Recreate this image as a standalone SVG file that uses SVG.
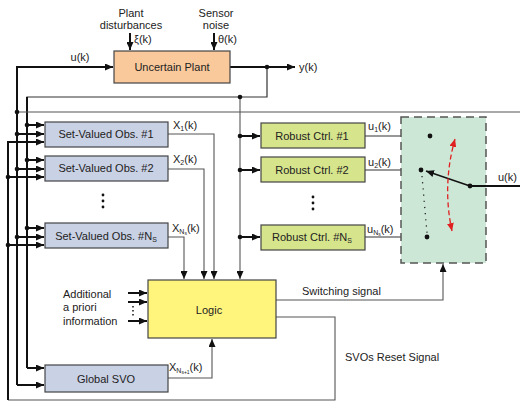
<svg xmlns="http://www.w3.org/2000/svg" width="520" height="405" viewBox="0 0 520 405">
  <style>
    text { font-family: "Liberation Sans", Arial, sans-serif; font-size: 11px; fill: #222; }
    .c { text-anchor: middle; }
    .sub { font-size: 7px; }
    .box { stroke: #444; stroke-width: 1.2; }
    .plant { fill: #F9C99B; }
    .svo { fill: #C9D1E5; }
    .ctrl { fill: #D6E48C; }
    .logic { fill: #FFF57D; }
    .bus { fill: none; stroke: #111; stroke-width: 2; }
    .thin { fill: none; stroke: #333; stroke-width: 1.2; }
    .gray { fill: none; stroke: #555; stroke-width: 1.1; }
    .dot { fill: #111; }
  </style>
  <defs>
    <marker id="ah" viewBox="0 0 8 7" refX="8" refY="3.5" markerWidth="8" markerHeight="7" markerUnits="userSpaceOnUse" orient="auto">
      <path d="M0,0 L8,3.5 L0,7 z" fill="#111"/>
    </marker>
    <marker id="ahr" viewBox="0 0 8 7" refX="8" refY="3.5" markerWidth="8" markerHeight="7" markerUnits="userSpaceOnUse" orient="auto-start-reverse">
      <path d="M0,0 L8,3.5 L0,7 z" fill="#E02020"/>
    </marker>
  </defs>

  <!-- connectors -->
  <g id="connectors">
    <!-- disturbance and noise inputs -->
    <line class="bus" x1="130" y1="33" x2="130" y2="50" marker-end="url(#ah)"/>
    <line class="bus" x1="214" y1="33" x2="214" y2="50" marker-end="url(#ah)"/>
    <!-- u(k) bus to plant -->
    <polyline class="bus" points="17,385 17,67 113,67" marker-end="url(#ah)"/>
    <line class="bus" x1="17" y1="385" x2="44" y2="385" marker-end="url(#ah)"/>
    <!-- plant output y(k) -->
    <line class="bus" x1="230" y1="67" x2="295" y2="67" marker-end="url(#ah)"/>
    <polyline class="thin" points="267,67 267,97 27,97 27,368"/>
    <line class="bus" x1="27" y1="97" x2="27" y2="368"/>
    <line class="bus" x1="27" y1="368" x2="44" y2="368" marker-end="url(#ah)"/>
    <!-- fed-back u(k) -->
    <line class="gray" x1="17" y1="112" x2="520" y2="112"/>
    <!-- y(k) to controllers and logic -->
    <line class="gray" x1="240" y1="97" x2="240" y2="279" marker-end="url(#ah)"/>
    <!-- reset signal loop -->
    <polyline class="gray" points="276,317 335,317 335,400 8,400"/>
    <polyline class="bus" points="8,400 8,142 44,142" marker-end="url(#ah)"/>

    <!-- SVO inputs -->
    <line class="bus" x1="27" y1="125" x2="44" y2="125" marker-end="url(#ah)"/>
    <line class="bus" x1="17" y1="134" x2="44" y2="134" marker-end="url(#ah)"/>
    <line class="bus" x1="27" y1="160" x2="44" y2="160" marker-end="url(#ah)"/>
    <line class="bus" x1="17" y1="169" x2="44" y2="169" marker-end="url(#ah)"/>
    <line class="bus" x1="8" y1="177" x2="44" y2="177" marker-end="url(#ah)"/>
    <line class="bus" x1="27" y1="228" x2="44" y2="228" marker-end="url(#ah)"/>
    <line class="bus" x1="17" y1="237" x2="44" y2="237" marker-end="url(#ah)"/>
    <line class="bus" x1="8" y1="245" x2="44" y2="245" marker-end="url(#ah)"/>

    <!-- SVO outputs to logic -->
    <polyline class="gray" points="168,134 214,134 214,279" marker-end="url(#ah)"/>
    <polyline class="gray" points="168,169 204,169 204,279" marker-end="url(#ah)"/>
    <polyline class="gray" points="168,237 184,237 184,279" marker-end="url(#ah)"/>
    <polyline class="gray" points="168,378 212,378 212,339" marker-end="url(#ah)"/>

    <!-- controller inputs -->
    <line class="bus" x1="240" y1="136" x2="260" y2="136" marker-end="url(#ah)"/>
    <line class="bus" x1="240" y1="170" x2="260" y2="170" marker-end="url(#ah)"/>
    <line class="bus" x1="240" y1="237" x2="260" y2="237" marker-end="url(#ah)"/>

    <!-- controller outputs -->
    <line class="thin" x1="365" y1="136" x2="430" y2="136"/>
    <line class="thin" x1="365" y1="170" x2="421" y2="170"/>
    <line class="thin" x1="365" y1="237" x2="427" y2="237"/>

    <!-- a priori information inputs -->
    <line class="bus" x1="128" y1="293" x2="147" y2="293" marker-end="url(#ah)"/>
    <line class="bus" x1="128" y1="302" x2="147" y2="302" marker-end="url(#ah)"/>
    <line class="bus" x1="128" y1="321" x2="147" y2="321" marker-end="url(#ah)"/>
    <line x1="133" y1="306" x2="133" y2="318" stroke="#111" stroke-width="1.5" stroke-dasharray="1.5,2.5"/>

    <!-- switching signal -->
    <polyline class="gray" points="276,300 443,300 443,264" marker-end="url(#ah)"/>

    <!-- junction dots -->
    <circle class="dot" cx="17" cy="112" r="2.3"/>
    <circle class="dot" cx="27" cy="125" r="2.3"/>
    <circle class="dot" cx="17" cy="134" r="2.3"/>
    <circle class="dot" cx="27" cy="160" r="2.3"/>
    <circle class="dot" cx="17" cy="169" r="2.3"/>
    <circle class="dot" cx="8" cy="177" r="2.3"/>
    <circle class="dot" cx="27" cy="228" r="2.3"/>
    <circle class="dot" cx="17" cy="237" r="2.3"/>
    <circle class="dot" cx="8" cy="245" r="2.3"/>
    <circle class="dot" cx="267" cy="67" r="2.3"/>
    <circle class="dot" cx="240" cy="97" r="2.3"/>
    <circle class="dot" cx="240" cy="136" r="2.3"/>
    <circle class="dot" cx="240" cy="170" r="2.3"/>
    <circle class="dot" cx="240" cy="237" r="2.3"/>
  </g>

  <!-- disturbance labels -->
  <g id="disturbances">
    <text class="c" x="131" y="17">Plant</text>
    <text class="c" x="131" y="29">disturbances</text>
    <text x="134" y="43">ξ(k)</text>
  </g>
  <g id="noise">
    <text class="c" x="216" y="17">Sensor</text>
    <text class="c" x="216" y="29">noise</text>
    <text x="218" y="43">θ(k)</text>
  </g>

  <g id="plant">
    <rect class="box plant" x="114" y="51" width="116" height="32"/>
    <text class="c" x="172" y="71">Uncertain Plant</text>
    <text class="c" x="80" y="61">u(k)</text>
    <text x="299" y="71">y(k)</text>
  </g>

  <g id="svo1">
    <rect class="box svo" x="45" y="122" width="123" height="25"/>
    <text class="c" x="106" y="138">Set-Valued Obs. #1</text>
    <text x="173" y="129">X<tspan class="sub" dy="2">1</tspan><tspan dy="-2">(k)</tspan></text>
  </g>
  <g id="svo2">
    <rect class="box svo" x="45" y="156" width="123" height="25"/>
    <text class="c" x="106" y="172">Set-Valued Obs. #2</text>
    <text x="173" y="163">X<tspan class="sub" dy="2">2</tspan><tspan dy="-2">(k)</tspan></text>
  </g>
  <g id="svo-more">
    <circle class="dot" cx="103" cy="195" r="1.4"/>
    <circle class="dot" cx="103" cy="201" r="1.4"/>
    <circle class="dot" cx="103" cy="207" r="1.4"/>
  </g>
  <g id="svoNs">
    <rect class="box svo" x="45" y="223" width="123" height="25"/>
    <text class="c" x="106" y="240">Set-Valued Obs. #N<tspan class="sub" dy="2">S</tspan></text>
    <text x="172" y="232">X<tspan class="sub" dy="2">N</tspan><tspan class="sub" style="font-size:5px" dy="1">s</tspan><tspan dy="-3">(k)</tspan></text>
  </g>

  <g id="ctrl1">
    <rect class="box ctrl" x="261" y="123" width="104" height="25"/>
    <text class="c" x="312" y="140">Robust Ctrl. #1</text>
    <text x="368" y="130">u<tspan class="sub" dy="2">1</tspan><tspan dy="-2">(k)</tspan></text>
  </g>
  <g id="ctrl2">
    <rect class="box ctrl" x="261" y="157" width="104" height="25"/>
    <text class="c" x="312" y="174">Robust Ctrl. #2</text>
    <text x="368" y="166">u<tspan class="sub" dy="2">2</tspan><tspan dy="-2">(k)</tspan></text>
  </g>
  <g id="ctrl-more">
    <circle class="dot" cx="313" cy="197" r="1.4"/>
    <circle class="dot" cx="313" cy="203" r="1.4"/>
    <circle class="dot" cx="313" cy="209" r="1.4"/>
  </g>
  <g id="ctrlNs">
    <rect class="box ctrl" x="261" y="225" width="104" height="25"/>
    <text class="c" x="312" y="241">Robust Ctrl. #N<tspan class="sub" dy="2">S</tspan></text>
    <text x="367" y="233">u<tspan class="sub" dy="2">N</tspan><tspan class="sub" style="font-size:5px" dy="1">s</tspan><tspan dy="-3">(k)</tspan></text>
  </g>

  <g id="switch">
    <rect x="401" y="117" width="85" height="146" fill="#CDE7D6" stroke="#555" stroke-width="1.5" stroke-dasharray="8,5"/>
    <line x1="422" y1="176" x2="427" y2="233" stroke="#222" stroke-width="1.3" stroke-dasharray="1.2,5"/>
    <line x1="470" y1="186" x2="426" y2="171" stroke="#111" stroke-width="1.4" marker-end="url(#ah)"/>
    <line class="bus" x1="470" y1="186" x2="520" y2="186"/>
    <path d="M455,139 Q442,185 452,231" fill="none" stroke="#E02020" stroke-width="1.3" stroke-dasharray="5,3" marker-start="url(#ahr)" marker-end="url(#ahr)"/>
    <circle class="dot" cx="430" cy="136" r="2.4"/>
    <circle class="dot" cx="421" cy="170" r="2.4"/>
    <circle class="dot" cx="427" cy="237" r="2.4"/>
    <circle class="dot" cx="470" cy="186" r="2.4"/>
    <text x="498" y="181">u(k)</text>
  </g>

  <g id="apriori">
    <text x="63" y="298">Additional</text>
    <text x="63" y="311">a priori</text>
    <text x="63" y="325">information</text>
  </g>

  <g id="logic">
    <rect class="box logic" x="148" y="280" width="128" height="58"/>
    <text class="c" x="209" y="314">Logic</text>
    <text x="302" y="295">Switching signal</text>
    <text x="345" y="361">SVOs Reset Signal</text>
  </g>

  <g id="global-svo">
    <rect class="box svo" x="45" y="365" width="123" height="27"/>
    <text class="c" x="106" y="383">Global SVO</text>
    <text x="169" y="371">X<tspan class="sub" dy="2">N</tspan><tspan class="sub" style="font-size:5px" dy="1">s+1</tspan><tspan dy="-3">(k)</tspan></text>
  </g>
</svg>
